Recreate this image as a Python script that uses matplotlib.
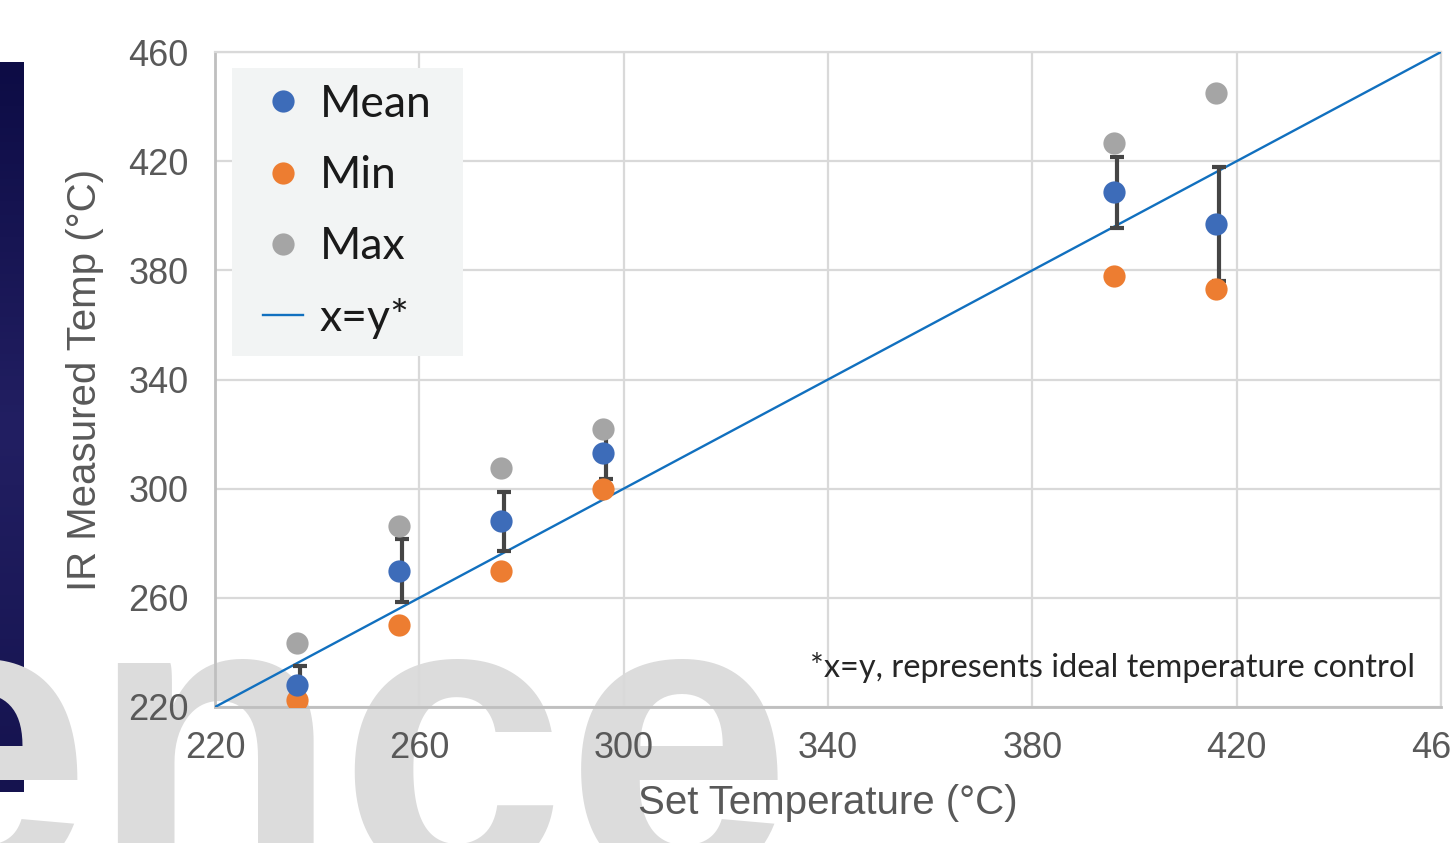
import matplotlib
matplotlib.use('Agg')
import matplotlib.pyplot as plt
import matplotlib.transforms as mtransforms
from matplotlib.patches import Rectangle
import numpy as np

# values
set_temp = [236, 256, 276, 296, 396, 416]
mean_temp = [228, 270, 288, 313, 408.6, 397]
min_temp = [222.6, 250, 270, 300, 378, 373]
max_temp = [243.4, 286.3, 307.5, 321.8, 426.6, 445]
mean_err = [7, 11.5, 10.8, 9.5, 13, 21]
ideal = [220, 460]
ticks = [220, 260, 300, 340, 380, 420, 460]

W, H = 1450, 843
fig = plt.figure(figsize=(W / 100, H / 100), dpi=100)

# dark strip on the left edge and the faint background lettering
strip = fig.add_axes([0, 1 - 792 / H, 24 / W, (792 - 62) / H], zorder=-2)
strip.imshow(np.linspace(0, 1, 100).reshape(-1, 1), aspect='auto',
             cmap=matplotlib.colors.LinearSegmentedColormap.from_list('s', ['#0d0c45', '#221f62', '#15134f']))
strip.axis('off')
fig.text(-0.094, -0.0415, 'ence', fontsize=293, fontweight='bold',
         family='Liberation Sans', color='#dcdcdc', va='baseline', zorder=-1)

ax = fig.add_axes([215 / W, 1 - 707 / H, (1441 - 215) / W, (707 - 52) / H])
ax.set_facecolor('none')

ax.plot(ideal, ideal, color='#1170bf', lw=1.7, label='x=y*', zorder=3)

shift = mtransforms.offset_copy(ax.transData, fig=fig, x=3, y=0, units='dots')
ax.errorbar(set_temp, mean_temp, yerr=mean_err, fmt='none', ecolor='#454545',
            elinewidth=3, capsize=5, capthick=3, transform=shift, zorder=4)

ax.plot(set_temp, max_temp, 'o', color='#a5a5a5', ms=16, mec='none', label='Max', zorder=5)
ax.plot(set_temp, min_temp, 'o', color='#ed7d31', ms=16, mec='none', label='Min', zorder=5)
ax.plot(set_temp, mean_temp, 'o', color='#3d6cb9', ms=16, mec='none', label='Mean', zorder=6)

ax.set_xlim(220, 460)
ax.set_ylim(220, 460)
ax.set_xticks(ticks)
ax.set_yticks(ticks)
ax.grid(True, color='#d9d9d9', lw=1.6)
ax.set_axisbelow(True)
ax.tick_params(length=0, labelsize=26, colors='#595959')
ax.tick_params(axis='x', pad=17)
ax.tick_params(axis='y', pad=19)
for lab in ax.get_xticklabels() + ax.get_yticklabels():
    lab.set_family('Liberation Sans')
for side in ['top', 'right']:
    ax.spines[side].set_color('#d9d9d9')
    ax.spines[side].set_linewidth(1.6)
for side in ['left', 'bottom']:
    ax.spines[side].set_color('#bfbfbf')
    ax.spines[side].set_linewidth(2)

ax.set_xlabel('Set Temperature (°C)', fontsize=29, color='#595959',
              family='Liberation Sans', labelpad=13)
ax.set_ylabel('IR Measured Temp (°C)', fontsize=29, color='#595959',
              family='Liberation Sans', labelpad=17)

# legend box drawn by hand so it sits over the grid with the reference's padding
ax.add_patch(Rectangle((232 / W, 1 - 356 / H), (463 - 232) / W, (356 - 68) / H,
                       transform=fig.transFigure, facecolor='#f2f4f4', edgecolor='none',
                       clip_on=False, zorder=7))
handles, labels = ax.get_legend_handles_labels()
order = [3, 2, 1, 0]
leg = ax.legend([handles[i] for i in order], [labels[i] for i in order],
                loc='upper left', bbox_to_anchor=(263 / W, 1 - 84 / H),
                bbox_transform=fig.transFigure, borderaxespad=0, borderpad=0,
                prop={'family': 'Lato', 'size': 32}, frameon=False,
                handlelength=0.9, handletextpad=0.38, labelspacing=0.68)
leg.set_zorder(8)
for t in leg.get_texts():
    t.set_color('#1a1a1a')

ax.text(0.979, 0.06, '*x=y, represents ideal temperature control', transform=ax.transAxes,
        ha='right', va='center', fontsize=23.4, family='Lato', color='#262626')

fig.savefig('out.png', dpi=100)
